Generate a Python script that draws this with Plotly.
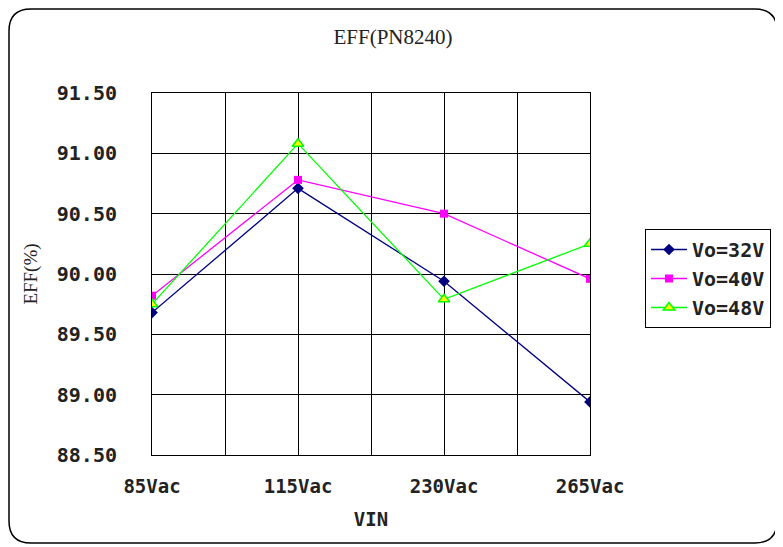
import plotly.graph_objects as go

categories = ["85Vac", "115Vac", "230Vac", "265Vac"]
vo32 = [89.68, 90.71, 89.94, 88.94]
vo40 = [89.82, 90.78, 90.50, 89.96]
vo48 = [89.75, 91.08, 89.79, 90.25]
y_ticks = [88.5, 89.0, 89.5, 90.0, 90.5, 91.0, 91.5]

OFF = 8  # page body margin
W, H = 783 - OFF, 547 - OFF
L, R, T, B = 152 - OFF, 590 - OFF, 93 - OFF, 455 - OFF
xpos = list(range(len(categories)))

fig = go.Figure()
fig.add_trace(go.Scatter(x=xpos, y=vo32, mode="lines+markers", name="Vo=32V",
                         line=dict(color="#000080", width=1.3),
                         marker=dict(symbol="diamond", size=9, color="#000080")))
fig.add_trace(go.Scatter(x=xpos, y=vo40, mode="lines+markers", name="Vo=40V",
                         line=dict(color="#FF00FF", width=1.3),
                         marker=dict(symbol="square", size=8, color="#FF00FF")))
fig.add_trace(go.Scatter(x=xpos, y=vo48, mode="lines+markers", name="Vo=48V",
                         line=dict(color="#00FF00", width=1.3),
                         marker=dict(symbol="triangle-up", size=10, color="#FFFF00",
                                     line=dict(color="#00FF00", width=1.5))))

tickvals = []
ticktext = []
for i, c in enumerate(categories):
    tickvals.append(i)
    ticktext.append(c)
    if i < len(categories) - 1:
        tickvals.append(i + 0.5)
        ticktext.append("")

def px(x):
    return (x - OFF - L) / (R - L)

def py(y):
    return (B - (y - OFF)) / (B - T)

# rounded outer frame (reference pixel coords -> paper)
x0, x1, y0, y1, r = 9, 777, 9, 543, 22
path = (f"M {px(x0+r)},{py(y0)} L {px(x1-r)},{py(y0)} Q {px(x1)},{py(y0)} {px(x1)},{py(y0+r)} "
        f"L {px(x1)},{py(y1-r)} Q {px(x1)},{py(y1)} {px(x1-r)},{py(y1)} "
        f"L {px(x0+r)},{py(y1)} Q {px(x0)},{py(y1)} {px(x0)},{py(y1-r)} "
        f"L {px(x0)},{py(y0+r)} Q {px(x0)},{py(y0)} {px(x0+r)},{py(y0)} Z")

mono = "DejaVu Sans Mono"
txt = "#222"
fig.update_layout(
    width=W, height=H,
    margin=dict(l=L, r=W - R, t=T, b=H - B),
    paper_bgcolor="white", plot_bgcolor="white",
    title=dict(text="EFF(PN8240)", x=(393 - OFF) / W, xref="container", xanchor="center",
               y=1 - (37 - OFF) / H, yanchor="middle",
               font=dict(family="Liberation Serif", size=21, color=txt)),
    xaxis=dict(range=[0, 3], tickmode="array", tickvals=tickvals, ticktext=ticktext,
               showgrid=True, gridcolor="black", gridwidth=1,
               showline=True, linecolor="black", linewidth=1, mirror=True,
               zeroline=False, ticks="", ticklabelstandoff=14,
               tickfont=dict(family=mono, size=19, color=txt, weight="bold"),
               title=dict(text="VIN", standoff=16,
                          font=dict(family=mono, size=19, color=txt, weight="bold"))),
    yaxis=dict(range=[88.5, 91.5], tickmode="array", tickvals=y_ticks,
               ticktext=[f"{v:.2f}" for v in y_ticks],
               showgrid=True, gridcolor="black", gridwidth=1,
               showline=True, linecolor="black", linewidth=1, mirror=True,
               zeroline=False, ticks="", ticklabelstandoff=30,
               tickfont=dict(family=mono, size=20, color=txt, weight="bold"),
               title=dict(text="EFF(%)", standoff=14,
                          font=dict(family="Liberation Serif", size=19, color=txt))),
    legend=dict(x=px(645), y=py(229), xanchor="left", yanchor="top",
                bordercolor="black", borderwidth=1, bgcolor="white",
                font=dict(family=mono, size=20, color=txt, weight="bold"),
                tracegroupgap=0, itemwidth=36),
    shapes=[dict(type="path", xref="paper", yref="paper", path=path,
                 line=dict(color="black", width=1.5), layer="below")],
    showlegend=True,
)

fig.write_html("out.html")
